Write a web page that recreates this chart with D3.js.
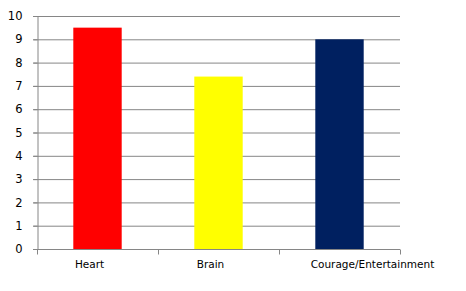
<!DOCTYPE html>
<html><head><meta charset="utf-8">
<script src="https://cdn.jsdelivr.net/npm/d3@7"></script>
<style>body{margin:0;background:#fff}svg{display:block}</style>
</head><body>
<script>
const categories = ["Heart", "Brain", "Courage/Entertainment"];
const values = [9.5, 7.4, 9];
const colors = ["#FF0000", "#FFFF00", "#002060"];
const yTicks = [0,1,2,3,4,5,6,7,8,9,10];

const W = 466, H = 291;
const m = {left: 37, right: 66, top: 16, bottom: 42};
const labelShift = [-8, -8, 33];
const svg = d3.select("body").append("svg").attr("width", W).attr("height", H);
const x = d3.scaleBand().domain(categories).range([m.left, W - m.right]).paddingInner(0.6).paddingOuter(0.3);
const y = d3.scaleLinear().domain([0, 10]).range([H - m.bottom, m.top]);
const grey = "#868686";
const font = "DejaVu Sans";

// gridlines
svg.append("g").selectAll("line").data(yTicks.filter(d => d > 0)).join("line")
  .attr("x1", m.left - 4).attr("x2", W - m.right)
  .attr("y1", d => y(d) + 0.5).attr("y2", d => y(d) + 0.5)
  .attr("stroke", grey).attr("stroke-width", 1);

// bars
svg.append("g").selectAll("rect").data(categories).join("rect")
  .attr("x", d => x(d)).attr("width", x.bandwidth())
  .attr("y", (d, i) => y(values[i])).attr("height", (d, i) => y(0) - y(values[i]))
  .attr("fill", (d, i) => colors[i]);

// y axis
const ya = svg.append("g").attr("transform", `translate(${m.left + 0.5},0)`)
  .call(d3.axisLeft(y).tickValues(yTicks).tickSize(4).tickPadding(11).tickFormat(d3.format("d")));
ya.selectAll("path,line").attr("stroke", grey);
ya.selectAll("text").attr("font-family", font).attr("font-size", 11.5).attr("fill", "#000");

// x axis
const xa = svg.append("g").attr("transform", `translate(0,${y(0) + 0.5})`);
xa.append("line").attr("x1", m.left - 4).attr("x2", W - m.right).attr("stroke", grey);
const bounds = [0,1,2,3].map(i => m.left + i * (W - m.left - m.right) / 3);
xa.selectAll("line.t").data(bounds).join("line").attr("class", "t")
  .attr("x1", d => Math.round(d) + 0.5).attr("x2", d => Math.round(d) + 0.5).attr("y1", 0).attr("y2", 5)
  .attr("stroke", grey);
xa.selectAll("text").data(categories).join("text")
  .attr("x", (d, i) => x(d) + x.bandwidth() / 2 + labelShift[i]).attr("y", 18)
  .attr("text-anchor", "middle").attr("font-family", font).attr("font-size", 10.5).attr("fill", "#000")
  .text(d => d);
</script>
</body></html>
